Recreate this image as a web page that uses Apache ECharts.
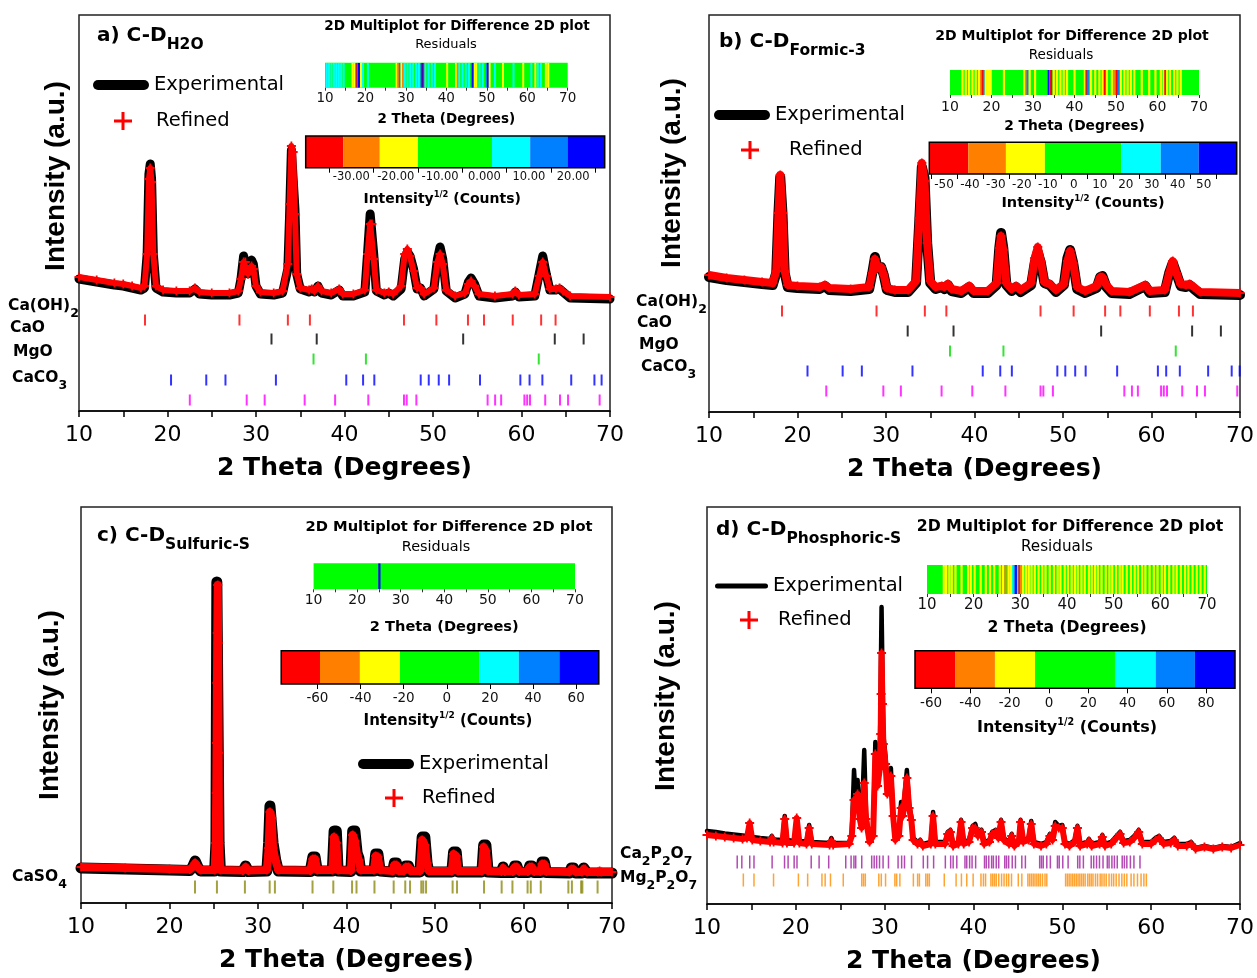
<!DOCTYPE html>
<html>
<head>
<meta charset="UTF-8">
<title>XRD Rietveld refinement - four samples</title>
<script src="https://cdn.jsdelivr.net/npm/echarts@6.0.0/dist/echarts.min.js"></script>
<style>
  html, body { margin: 0; padding: 0; background: #fff; }
  #chart { width: 1257px; height: 978px; }
</style>
</head>
<body>
<div id="chart"></div>
<script>
// ---- panel a) C-D H2O ----
var expA = [[10,135],[12,132],[14,129],[15,128],[16,126],[17,124],[17.4,126],[17.7,160],[17.9,240],[18.05,250],[18.2,235],[18.4,160],[18.7,126],[19.5,122],[21,121],[22.5,121],[23.1,125],[23.6,120],[25,119],[27,119],[28,121],[28.3,135],[28.6,158],[28.8,158],[29.1,140],[29.5,154],[29.7,150],[30,128],[30.5,120],[32,119],[33,121],[33.6,145],[33.8,200],[34.0,264],[34.2,266],[34.4,205],[34.6,140],[35,125],[36,122],[36.3,124],[36.6,122],[37,128],[37.4,121],[38.5,119],[39.4,124],[39.8,118],[41,118],[42.3,122],[42.6,160],[42.9,200],[43.1,200],[43.3,160],[43.6,123],[44.5,119],[45,121],[45.5,118],[46.4,125],[46.8,155],[47.1,162],[47.4,158],[47.8,145],[48.2,125],[48.6,126],[49,118],[50.1,125],[50.5,155],[50.8,167],[51.1,155],[51.5,123],[52.5,116],[53.6,120],[54.0,132],[54.3,136],[54.7,130],[55.2,118],[57,116],[59,118],[59.3,122],[59.7,117],[61.5,118],[62,140],[62.4,158],[62.8,140],[63.2,124],[63.9,124],[64.3,125],[64.7,122],[65.5,116],[70,115]];
var refA = [[10,137],[12,134],[14,131],[15,130],[16,128],[17,126],[17.4,128],[17.7,160],[17.9,235],[18.05,246],[18.2,232],[18.4,160],[18.7,128],[19.5,124],[21,123],[22.5,123],[23.1,126],[23.6,122],[25,121],[27,121],[28,123],[28.3,135],[28.6,152],[28.8,152],[29.1,140],[29.5,148],[29.7,145],[30,128],[30.5,122],[32,121],[33,123],[33.6,150],[33.8,210],[34.0,268],[34.2,262],[34.4,200],[34.6,140],[35,126],[36,124],[36.3,125],[36.6,123],[37,128],[37.4,123],[38.5,121],[39.4,125],[39.8,120],[41,120],[42.3,124],[42.6,160],[42.9,190],[43.1,190],[43.3,155],[43.6,124],[44.5,121],[45,122],[45.5,120],[46.4,128],[46.8,160],[47.1,165],[47.4,158],[47.8,143],[48.2,126],[48.6,126],[49,120],[50.1,126],[50.5,152],[50.8,160],[51.1,150],[51.5,124],[52.5,118],[53.6,121],[54.0,130],[54.3,133],[54.7,128],[55.2,120],[57,118],[59,120],[59.3,123],[59.7,119],[61.5,120],[62,138],[62.4,152],[62.8,138],[63.2,125],[63.9,125],[64.3,126],[64.7,123],[65.5,118],[70,117]];
var cohA = [17.46, 28.13, 33.60, 36.09, 46.72, 50.38, 53.95, 55.76, 59.01, 62.22, 63.85];
var caoA = [31.75, 36.86, 53.41, 63.76, 67.02];
var mgoA = [36.50, 42.42, 61.95];
var caco3A = [20.40, 24.38, 26.55, 32.25, 40.20, 42.10, 43.37, 48.61, 49.52, 50.65, 51.82, 55.31, 59.87, 60.91, 62.36, 65.62, 68.24, 69.05];
var caco3bA = [22.52, 28.95, 30.98, 35.50, 38.94, 42.69, 46.72, 47.03, 48.12, 56.17, 57.02, 57.70, 60.33, 60.64, 60.96, 62.68, 64.35, 65.26, 68.83];
var residA = [[10.4,6],[11.0,6],[11.6,6],[12.2,6],[12.8,6],[13.4,6],[14.0,6],[14.6,6],[16.8,-19],[17.3,-19],[17.8,-36],[18.1,14],[18.4,22],[18.9,-19],[19.4,6],[20.6,6],[27.7,-19],[28.1,-28],[28.5,14],[28.9,-19],[29.3,-28],[29.7,6],[30.4,6],[31.1,6],[31.8,6],[32.5,6],[33.2,6],[33.8,14],[34.1,22],[34.4,-36],[34.8,6],[35.6,6],[36.4,6],[37.2,6],[40.2,-19],[42.4,-19],[42.8,-28],[43.2,6],[44.0,6],[44.8,6],[45.6,6],[46.3,14],[46.6,22],[47.0,-19],[47.4,-19],[48.2,6],[49.0,6],[50.0,14],[50.3,22],[50.7,-19],[52.0,6],[54.0,-19],[56.6,6],[59.0,-19],[61.0,6],[62.0,-19],[62.6,6],[63.4,6],[64.6,-19],[65.2,-19]];
var cbarA = [-40.3, -31.8, -23.6, -15.0, 1.7, 10.3, 18.7, 27.1];
var cbarTicksA = [-35, -25, -15, -5, 5, 15, 25];
var cbarLabelsA = [-30, -20, -10, 0, 10, 20];

// ---- panel b) C-D Formic-3 ----
var expB = [[10,136],[12,133],[14,131],[16,129],[17.2,128],[17.6,140],[17.85,200],[18.05,236],[18.3,200],[18.55,140],[18.9,126],[20,125],[22.5,124],[23.1,127],[23.6,123],[26,122],[28.1,124],[28.45,140],[28.75,156],[29.05,145],[29.45,146],[29.75,138],[30.1,123],[31,121],[32.5,121],[33.4,130],[33.75,190],[34.05,246],[34.35,235],[34.65,170],[35.0,130],[35.6,124],[36.3,126],[36.6,124],[37.0,128],[37.4,122],[38.5,120],[39.4,126],[39.9,120],[41.5,120],[42.5,128],[42.8,165],[43.0,180],[43.25,165],[43.6,128],[44.2,122],[44.7,126],[45.2,121],[46.4,128],[46.8,150],[47.15,161],[47.5,150],[47.9,130],[48.5,128],[49.2,121],[50.1,128],[50.5,155],[50.8,163],[51.15,150],[51.6,124],[52.5,120],[53.8,125],[54.2,136],[54.45,137],[54.9,126],[55.5,120],[57.5,119],[59.3,127],[59.8,120],[61.5,121],[62.0,140],[62.4,150],[62.8,140],[63.3,127],[63.9,126],[64.3,128],[64.8,124],[65.5,119],[70,118]];
var refB = [[10,138],[12,135],[14,133],[16,131],[17.2,130],[17.6,142],[17.85,200],[18.05,238],[18.3,200],[18.55,142],[18.9,128],[20,127],[22.5,126],[23.1,128],[23.6,125],[26,124],[28.1,126],[28.45,140],[28.75,154],[29.05,145],[29.45,146],[29.75,138],[30.1,125],[31,123],[32.5,123],[33.4,132],[33.75,195],[34.05,250],[34.35,232],[34.65,170],[35.0,132],[35.6,126],[36.3,127],[36.6,126],[37.0,129],[37.4,124],[38.5,122],[39.4,127],[39.9,122],[41.5,122],[42.5,130],[42.8,165],[43.0,177],[43.25,163],[43.6,130],[44.2,124],[44.7,127],[45.2,123],[46.4,130],[46.8,155],[47.15,166],[47.5,152],[47.9,131],[48.5,129],[49.2,123],[50.1,129],[50.5,152],[50.8,162],[51.15,150],[51.6,126],[52.5,122],[53.8,127],[54.2,136],[54.45,136],[54.9,128],[55.5,122],[57.5,121],[59.3,128],[59.8,122],[61.5,123],[62.0,140],[62.4,152],[62.8,140],[63.3,129],[63.9,128],[64.3,129],[64.8,126],[65.5,121],[70,120]];
var cohB = [18.25, 28.93, 34.39, 36.82, 47.46, 51.20, 54.76, 56.48, 59.81, 63.10, 64.68];
var caoB = [32.45, 37.63, 54.31, 64.59, 67.84];
var mgoB = [37.23, 43.27, 62.74];
var caco3B = [21.13, 25.10, 27.27, 32.99, 40.93, 42.91, 44.22, 49.36, 50.26, 51.38, 52.56, 56.12, 60.72, 61.66, 63.20, 66.40, 69.06, 69.96];
var caco3bB = [23.25, 29.70, 31.68, 36.28, 39.75, 43.49, 47.46, 47.78, 48.86, 56.93, 57.79, 58.46, 61.08, 61.39, 61.75, 63.47, 65.14, 66.04, 69.69];
var residB = [[13.0,-18],[13.8,-18],[14.6,-18],[15.4,-18],[16.2,-18],[17.0,-18],[17.5,-33],[17.9,-48],[18.2,40],[18.6,-18],[19.0,-18],[19.4,-18],[19.8,-18],[23.0,-18],[27.9,-18],[28.4,-33],[28.7,40],[29.2,-18],[30.5,-18],[33.8,55],[34.1,40],[34.4,-48],[35.0,-18],[35.8,-18],[36.6,-18],[37.4,-18],[38.2,-18],[40.0,-18],[42.5,-18],[42.9,-48],[43.2,40],[44.0,-18],[45.0,-18],[46.0,-18],[46.8,-18],[47.3,-48],[47.8,-18],[49.0,-18],[49.8,-33],[50.2,-48],[50.6,40],[51.2,-18],[52.0,-18],[52.8,-18],[53.6,-18],[54.4,-18],[56.2,-18],[58.0,-18],[59.5,-18],[60.8,-18],[61.5,-18],[61.9,-48],[62.3,-18],[63.0,-18],[64.0,-18],[64.8,-18],[65.6,-18]];
var cbarB = [-55.65, -40.65, -26.15, -11.15, 18.35, 33.46, 48.1, 62.7];
var cbarTicksB = [-55, -45, -35, -25, -15, -5, 5, 15, 25, 35, 45, 55];
var cbarLabelsB = [-50, -40, -30, -20, -10, 0, 10, 20, 30, 40, 50];

// ---- panel c) C-D Sulfuric-S ----
var expC = [[10,35],[15,34],[20,33],[22.3,32.5],[22.6,36],[22.9,42],[23.2,36],[23.5,32],[25.1,32],[25.25,60],[25.35,321],[25.5,321],[25.6,60],[25.75,32],[28.3,31.5],[28.6,37],[28.9,31.5],[31.0,32],[31.2,60],[31.35,97],[31.55,97],[31.7,60],[32.0,43],[32.3,32],[35.9,31.5],[36.2,46],[36.45,46],[36.7,32],[38.4,32],[38.6,72],[38.85,72],[39.05,32],[40.5,31.5],[40.7,72],[40.95,72],[41.2,50],[41.4,45],[41.6,32],[43.1,32],[43.3,49],[43.55,49],[43.8,32],[45.2,31],[45.4,40],[45.65,40],[45.9,31],[46.5,31],[46.7,37],[47.0,37],[47.2,31],[48.3,31],[48.55,66],[48.85,66],[49.1,40],[49.3,31],[51.9,31],[52.1,51],[52.4,51],[52.6,31],[55.3,31],[55.5,58],[55.75,58],[56.0,31],[57.5,30.5],[57.7,36],[57.9,30.5],[58.8,30.5],[59.0,37],[59.25,37],[59.5,30.5],[60.5,30.5],[60.7,37],[60.95,37],[61.2,30.5],[61.9,30.5],[62.1,41],[62.35,41],[62.6,30.5],[65.2,30],[65.4,35],[65.65,35],[65.9,30],[66.6,30],[66.8,35],[67.0,35],[67.2,30],[68.4,30],[68.6,32],[68.8,30],[70,30]];
var refC = [[10,36],[15,35],[20,34],[22.3,33.5],[22.6,36],[22.9,40],[23.2,36],[23.5,33],[25.1,33],[25.22,60],[25.28,110],[25.32,160],[25.36,220],[25.4,270],[25.45,318],[25.5,260],[25.55,150],[25.6,60],[25.75,33],[28.3,32.5],[28.6,36],[28.9,32.5],[31.0,33],[31.2,55],[31.35,91],[31.55,85],[31.7,55],[32.0,42],[32.3,33],[35.9,32.5],[36.2,44],[36.45,44],[36.7,33],[38.4,33],[38.6,66],[38.85,60],[39.05,33],[40.5,32.5],[40.7,68],[40.95,62],[41.2,48],[41.4,43],[41.6,33],[43.1,33],[43.3,47],[43.55,46],[43.8,33],[45.2,32],[45.4,38],[45.65,38],[45.9,32],[46.5,32],[46.7,36],[47.0,36],[47.2,32],[48.3,32],[48.55,63],[48.85,58],[49.1,40],[49.3,32],[51.9,32],[52.1,49],[52.4,47],[52.6,32],[55.3,32],[55.5,56],[55.75,52],[56.0,32],[57.5,31.5],[57.7,35],[57.9,31.5],[58.8,31.5],[59.0,36],[59.25,36],[59.5,31.5],[60.5,31.5],[60.7,36],[60.95,36],[61.2,31.5],[61.9,31.5],[62.1,39],[62.35,39],[62.6,31.5],[65.2,31],[65.4,34],[65.65,34],[65.9,31],[66.6,31],[66.8,34],[67.0,34],[67.2,31],[68.4,31],[68.6,32],[68.8,31],[70,31]];
var caso4C = [22.88, 25.36, 28.52, 31.32, 31.91, 36.16, 38.51, 40.63, 41.13, 43.16, 45.33, 46.64, 47.18, 48.45, 48.67, 48.99, 51.99, 52.49, 55.54, 57.53, 58.75, 60.46, 60.82, 61.95, 65.07, 65.47, 66.51, 66.65, 68.37];
var residC = [[25.1,60]];
var cbarC = [-76.8, -58.8, -40.3, -21.7, 15.0, 33.4, 52.2, 70.5];
var cbarTicksC = [-60, -40, -20, 0, 20, 40, 60];

// ---- panel d) C-D Phosphoric-S ----
var expD = [[10,73],[11,72],[12,70.5],[13,69.5],[14,68.5],[14.5,68],[14.8,75],[15.1,67],[16,66],[17.1,65],[17.3,68],[17.5,64.5],[18.5,64],[18.75,88],[19.0,64],[19.8,63],[20.1,80],[20.4,63],[21.2,62.5],[21.5,79],[21.8,62],[23.8,61],[24.0,66],[24.2,61],[26.0,61],[26.3,70],[26.55,134],[26.75,105],[26.95,124],[27.2,90],[27.4,80],[27.7,154],[27.9,90],[28.3,62],[28.7,70],[28.95,162],[29.2,120],[29.45,140],[29.65,297],[29.85,170],[30.1,147],[30.3,110],[30.7,136],[30.95,90],[31.2,64],[31.6,70],[31.85,102],[32.05,90],[32.5,134],[32.75,100],[33.0,87],[33.2,66],[33.7,62],[34.0,64],[34.3,60],[35.2,62],[35.45,92],[35.7,62],[36.8,62],[37.1,72],[37.4,74],[37.7,60],[38.3,62],[38.6,84],[38.9,62],[39.5,64],[39.9,78],[40.2,80],[40.5,70],[40.9,74],[41.2,62],[41.8,64],[42.1,72],[42.5,74],[42.8,68],[43.1,84],[43.4,66],[44.0,62],[44.3,70],[44.6,60],[45.1,64],[45.3,84],[45.6,64],[46.2,66],[46.5,83],[46.8,62],[47.6,60],[48.2,62],[48.6,70],[48.9,66],[49.2,82],[49.6,78],[50.0,79],[50.3,62],[50.8,60],[51.4,64],[51.7,78],[52.0,60],[52.8,62],[53.0,65],[53.3,60],[54.2,62],[54.5,69],[54.8,60],[55.5,62],[56.1,68],[56.5,72],[56.9,63],[57.6,64],[58.1,68],[58.6,74],[59.0,62],[60.0,62],[60.5,66],[60.9,68],[61.4,62],[62.2,63],[62.6,66],[63.0,60],[64.0,60],[64.5,62],[65.0,56],[66.0,58],[67.0,56],[68.0,58],[69.0,57],[70,61]];
var refD = [[10,69],[11,68],[12,67],[13,66],[14,65],[14.5,66],[14.8,81],[15.1,64],[16,63],[17.1,62],[17.3,66],[17.5,62],[18.5,61],[18.75,85],[19.0,61],[19.8,61],[20.1,86],[20.4,61],[21.2,60],[21.5,76],[21.8,60],[23.8,59],[24.0,63],[24.2,59],[26.0,60],[26.3,68],[26.55,104],[26.75,95],[26.95,110],[27.2,85],[27.4,76],[27.7,121],[27.9,85],[28.3,62],[28.7,68],[28.95,150],[29.2,118],[29.45,135],[29.55,170],[29.6,210],[29.65,251],[29.75,200],[29.85,160],[30.1,140],[30.3,110],[30.7,128],[30.95,88],[31.2,64],[31.6,68],[31.85,96],[32.05,88],[32.5,126],[32.75,96],[33.0,84],[33.2,64],[33.7,60],[34.0,62],[34.3,58],[35.2,60],[35.45,88],[35.7,60],[36.8,60],[37.1,70],[37.4,72],[37.7,58],[38.3,60],[38.6,82],[38.9,60],[39.5,62],[39.9,76],[40.2,76],[40.5,68],[40.9,72],[41.2,60],[41.8,62],[42.1,70],[42.5,72],[42.8,66],[43.1,82],[43.4,64],[44.0,60],[44.3,68],[44.6,58],[45.1,62],[45.3,82],[45.6,62],[46.2,64],[46.5,80],[46.8,60],[47.6,58],[48.2,60],[48.6,68],[48.9,64],[49.2,78],[49.6,76],[50.0,76],[50.3,60],[50.8,58],[51.4,62],[51.7,76],[52.0,58],[52.8,60],[53.0,63],[53.3,58],[54.2,60],[54.5,67],[54.8,58],[55.5,60],[56.1,66],[56.5,70],[56.9,61],[57.6,62],[58.1,66],[58.6,72],[59.0,60],[60.0,60],[60.5,64],[60.9,66],[61.4,60],[62.2,61],[62.6,64],[63.0,58],[64.0,58],[64.5,60],[65.0,55],[66.0,57],[67.0,55],[68.0,57],[69.0,56],[70,59]];
var ca2p2o7D = [13.40, 13.92, 14.81, 15.29, 17.33, 18.73, 19.13, 19.81, 20.13, 21.73, 22.62, 23.70, 25.62, 26.22, 26.54, 26.74, 27.42, 28.54, 28.82, 29.10, 29.42, 29.82, 30.43, 31.51, 31.91, 32.23, 33.03, 34.35, 34.83, 35.51, 36.83, 37.43, 37.71, 38.12, 39.04, 39.24, 39.56, 39.84, 40.24, 41.24, 41.44, 41.72, 42.04, 42.24, 42.56, 42.84, 43.52, 43.72, 43.96, 44.36, 44.72, 45.44, 45.84, 47.45, 47.65, 47.85, 48.25, 48.65, 49.45, 49.65, 50.05, 50.65, 51.73, 51.97, 52.37, 53.25, 53.53, 53.85, 54.18, 54.58, 55.06, 55.26, 55.58, 55.86, 56.18, 56.74, 56.98, 57.26, 57.66, 58.06, 58.74];
var mg2p2o7D = [14.09, 15.29, 17.49, 20.29, 21.33, 22.94, 23.30, 23.90, 25.34, 27.42, 27.62, 27.82, 29.34, 29.62, 30.10, 31.15, 31.35, 31.71, 33.23, 33.71, 33.91, 34.63, 34.83, 35.03, 36.71, 38.04, 38.64, 39.24, 39.96, 40.84, 41.12, 41.36, 41.96, 42.16, 42.36, 42.56, 42.84, 43.16, 43.44, 43.72, 43.96, 44.28, 45.04, 45.44, 46.12, 46.32, 46.52, 46.72, 46.92, 47.13, 47.33, 47.53, 47.77, 48.05, 48.25, 50.37, 50.57, 50.77, 50.97, 51.17, 51.37, 51.57, 51.77, 51.97, 52.17, 52.37, 52.57, 52.85, 53.05, 53.25, 53.45, 53.73, 53.97, 54.26, 54.46, 54.70, 54.94, 55.26, 55.54, 55.78, 56.06, 56.38, 56.70, 56.98, 57.26, 57.74, 58.06, 58.46, 58.86, 59.18, 59.46];
var residD = [[13.6,-17],[14.1,-17],[14.8,-17],[15.3,-17],[16.1,-17],[17.4,-17],[18.8,-17],[19.4,-17],[20.2,-17],[21.5,-17],[22.6,-17],[23.5,-17],[24.4,-17],[25.6,-17],[26.3,-17],[26.8,-37],[27.5,-17],[28.0,-17],[28.5,45],[28.8,64],[29.1,85],[29.5,45],[29.8,-55],[30.1,-37],[30.6,-17],[31.2,-17],[31.8,-17],[32.4,-17],[33.1,-17],[33.9,-17],[34.7,-17],[35.4,-17],[36.3,-17],[37.2,-17],[38.0,-17],[38.6,-17],[39.5,-17],[40.2,-17],[41.0,-17],[41.7,-17],[42.3,-17],[43.1,-17],[43.8,-17],[44.7,-17],[45.3,-17],[46.0,-17],[46.6,-17],[47.4,-17],[48.3,-17],[49.1,-17],[49.7,-17],[50.5,-17],[51.3,-17],[51.9,-17],[52.8,-17],[53.7,-17],[54.5,-17],[55.2,-17],[56.1,-17],[56.8,-17],[57.7,-17],[58.6,-17],[59.4,-17],[60.3,-17],[61.0,-17],[61.9,-17],[62.8,-17],[63.5,-17],[64.4,-17],[65.3,-17],[66.0,-17],[66.9,-17],[67.8,-17],[68.6,-17],[69.5,-17]];
var cbarD = [-68.2, -47.8, -27.5, -7.1, 33.6, 54.3, 74.3, 94.7];
var cbarTicksD = [-60, -40, -20, 0, 20, 40, 60, 80];

var stripLabels = [10, 20, 30, 40, 50, 60, 70];
var levelColors = ['#ff0000', '#ff8000', '#ffff00', '#00ff00', '#00ffff', '#0080ff', '#0000ff'];

var FONT = 'DejaVu Sans';
var plusIcon = 'path://M7.5,0H10.5V7.5H18V10.5H10.5V18H7.5V10.5H0V7.5H7.5Z';
var plusMark = 'path://M4,0H6V4H10V6H6V10H4V6H0V4H4Z';
var pillThick = 'path://M5,0H51A5,5,0,0,1,51,10H5A5,5,0,0,1,5,0Z';
var pillThin = 'path://M2.5,0H50.5A2.5,2.5,0,0,1,50.5,5H2.5A2.5,2.5,0,0,1,2.5,0Z';

var panels = [
  {
    exp: expA, ref: refA, resid: residA, cbar: cbarA, cbarTicks: cbarTicksA, cbarLabels: cbarLabelsA,
    cbarFmt: function (v) { return v === 0 ? '0.000' : v.toFixed(2); },
    phases: [[cohA, '#ff0000', 94], [caoA, '#000000', 75], [mgoA, '#00dd00', 55], [caco3A, '#0000ff', 34], [caco3bA, '#ff00ff', 14]],
    main: {left: 79, top: 15, width: 531, height: 396}, yMin: 3, yMax: 399,
    expW: 9, refW: 6, tick: [2, 11], stripeW: 2,
    strip: {left: 325, top: 62.7, width: 242.7, height: 25}, sFont: 13.5, sMargin: 4.2, sGap: 25, sName: 13.5,
    bar: {left: 305.7, top: 136, width: 299, height: 31.7}, bFont: 11.5, bMargin: 3, bGap: 22, bName: 14, bPad: [0, 26, 0, 0],
    expLeg: [93, 73, 56, 10, pillThick], refLeg: [114, 109, 19]
  },
  {
    exp: expB, ref: refB, resid: residB, cbar: cbarB, cbarTicks: cbarTicksB, cbarLabels: cbarLabelsB,
    cbarFmt: function (v) { return String(v); },
    phases: [[cohB, '#ff0000', 102], [caoB, '#000000', 82], [mgoB, '#00dd00', 62], [caco3B, '#0000ff', 42], [caco3bB, '#ff00ff', 22]],
    main: {left: 709, top: 15, width: 532, height: 397}, yMin: 1, yMax: 398,
    expW: 10, refW: 8, tick: [2, 11], stripeW: 2.2,
    strip: {left: 950, top: 70, width: 249, height: 25}, sFont: 14, sMargin: 5.3, sGap: 24.4, sName: 13.8,
    bar: {left: 929.3, top: 142.3, width: 307.4, height: 31.7}, bFont: 12, bMargin: 5, bGap: 19.5, bName: 14.5, bPad: [0, 0, 0, 0],
    expLeg: [714, 103, 56, 10, pillThick], refLeg: [741, 138, 25]
  },
  {
    exp: expC, ref: refC, resid: residC, cbar: cbarC, cbarTicks: cbarTicksC, cbarLabels: cbarTicksC,
    cbarFmt: function (v) { return String(v); },
    phases: [[caso4C, '#8c8a10', 16]],
    main: {left: 81, top: 507, width: 531, height: 396}, yMin: 0, yMax: 396,
    expW: 11, refW: 8, tick: [2, 13], stripeW: 2.2,
    strip: {left: 313.6, top: 563.3, width: 261.4, height: 26}, sFont: 14, sMargin: 3.7, sGap: 30, sName: 14.6,
    bar: {left: 281.2, top: 650.7, width: 317.6, height: 33.3}, bFont: 13.5, bMargin: 7.6, bGap: 26.5, bName: 15, bPad: [0, 0, 0, 16],
    expLeg: [358, 752, 56, 10, pillThick], refLeg: [385, 786, 14]
  },
  {
    exp: expD, ref: refD, resid: residD, cbar: cbarD, cbarTicks: cbarTicksD, cbarLabels: cbarTicksD,
    cbarFmt: function (v) { return String(v); },
    phases: [[ca2p2o7D, '#a01ca0', 42], [mg2p2o7D, '#ff8c00', 24]],
    main: {left: 707, top: 507, width: 533, height: 397}, yMin: 0, yMax: 397,
    expW: 4.5, refW: 6, tick: [1.5, 13], stripeW: 2.2,
    strip: {left: 927, top: 565, width: 280, height: 29}, sFont: 15, sMargin: 3.8, sGap: 26.4, sName: 15.6,
    bar: {left: 915, top: 650.7, width: 320, height: 37.6}, bFont: 13.5, bMargin: 8.3, bGap: 29, bName: 16, bPad: [0, 16, 0, 0],
    expLeg: [715, 574, 53, 5, pillThin], refLeg: [740, 608, 15]
  }
];

function stripeMaker(w) {
  return function (params, api) {
    var cs = params.coordSys;
    var x = api.coord([api.value(0), 0.5])[0];
    return {type: 'rect', shape: {x: x - w / 2, y: cs.y, width: w, height: cs.height}, style: {fill: api.visual('color')}};
  };
}

function barItem(params, api) {
  var cs = params.coordSys;
  var x0 = api.coord([api.value(0), 0.5])[0];
  var x1 = api.coord([api.value(1), 0.5])[0];
  return {type: 'rect', shape: {x: x0, y: cs.y, width: x1 - x0, height: cs.height}, style: {fill: levelColors[api.value(2)]}};
}

function piecesFrom(b) {
  var out = [{lt: b[1], color: levelColors[0]}];
  for (var k = 1; k < 6; k++) out.push({gte: b[k], lt: b[k + 1], color: levelColors[k]});
  out.push({gte: b[6], color: levelColors[6]});
  return out;
}

var grids = [], xAxes = [], yAxes = [], series = [], visualMaps = [], legends = [];

panels.forEach(function (p) {
  // main pattern
  var g = grids.length;
  grids.push(Object.assign({show: true, borderColor: '#222', borderWidth: 1.5, backgroundColor: 'transparent'}, p.main));
  xAxes.push({
    gridIndex: g, type: 'value', min: 10, max: 70, interval: 10,
    axisLine: {lineStyle: {color: '#000', width: 1.5}},
    axisTick: {length: 6, lineStyle: {color: '#000', width: 1.5}},
    minorTick: {show: true, splitNumber: 2, length: 6, lineStyle: {color: '#000', width: 1.5}},
    splitLine: {show: false}, minorSplitLine: {show: false},
    axisLabel: {fontSize: 22, color: '#000', fontFamily: FONT, margin: 13},
    name: '2 Theta (Degrees)', nameLocation: 'middle', nameGap: 45,
    nameTextStyle: {fontSize: 25, fontWeight: 'bold', color: '#000', fontFamily: FONT}
  });
  yAxes.push({gridIndex: g, type: 'value', min: p.yMin, max: p.yMax, show: false});
  series.push({
    type: 'line', name: 'Experimental', xAxisIndex: g, yAxisIndex: g, data: p.exp,
    showSymbol: false, silent: true, z: 2,
    itemStyle: {color: '#000'},
    lineStyle: {color: '#000', width: p.expW, cap: 'round', join: 'round'}
  });
  series.push({
    type: 'line', name: 'Refined', xAxisIndex: g, yAxisIndex: g, data: p.ref,
    symbol: plusMark, symbolSize: 9, showAllSymbol: true, silent: true, z: 3,
    itemStyle: {color: '#ff0000'},
    lineStyle: {color: '#ff0000', width: p.refW, join: 'round'}
  });
  p.phases.forEach(function (ph) {
    series.push({
      type: 'scatter', xAxisIndex: g, yAxisIndex: g, silent: true, z: 3,
      symbol: 'rect', symbolSize: p.tick, itemStyle: {color: ph[1]},
      data: ph[0].map(function (x) { return [x, ph[2]]; })
    });
  });

  // residual strip
  var gs = grids.length;
  grids.push(Object.assign({show: true, borderWidth: 0, backgroundColor: levelColors[3]}, p.strip));
  xAxes.push({
    gridIndex: gs, type: 'value', min: 10, max: 70, interval: 10,
    axisLine: {show: false},
    axisTick: {show: true, length: 3, lineStyle: {color: '#333'}},
    minorTick: {show: true, splitNumber: 2, length: 3, lineStyle: {color: '#333'}},
    splitLine: {show: false},
    axisLabel: {customValues: stripLabels, fontSize: p.sFont, color: '#111', fontFamily: FONT, margin: p.sMargin},
    name: '2 Theta (Degrees)', nameLocation: 'middle', nameGap: p.sGap,
    nameTextStyle: {fontSize: p.sName, fontWeight: 'bold', color: '#000', fontFamily: FONT}
  });
  yAxes.push({gridIndex: gs, type: 'value', min: 0, max: 1, show: false});
  visualMaps.push({type: 'piecewise', show: false, seriesIndex: series.length, dimension: 1, pieces: piecesFrom(p.cbar)});
  series.push({type: 'custom', xAxisIndex: gs, yAxisIndex: gs, data: p.resid, renderItem: stripeMaker(p.stripeW), clip: true, silent: true});

  // colour scale bar
  var gb = grids.length;
  grids.push(Object.assign({show: true, borderColor: '#000', borderWidth: 1.5, backgroundColor: 'transparent'}, p.bar));
  xAxes.push({
    gridIndex: gb, type: 'value', min: p.cbar[0], max: p.cbar[7],
    axisLine: {show: false},
    axisTick: {show: true, customValues: p.cbarTicks, length: 5, lineStyle: {color: '#000'}},
    splitLine: {show: false},
    axisLabel: {customValues: p.cbarLabels, formatter: p.cbarFmt, fontSize: p.bFont, color: '#111', fontFamily: FONT, margin: p.bMargin},
    name: '{m|Intensity}{s|1/2}{m| (Counts)}', nameLocation: 'middle', nameGap: p.bGap,
    nameTextStyle: {
      padding: p.bPad, fontFamily: FONT,
      rich: {
        m: {fontSize: p.bName, fontWeight: 'bold', color: '#000', fontFamily: FONT, lineHeight: p.bName + 3, verticalAlign: 'bottom'},
        s: {fontSize: p.bName * 0.6, fontWeight: 'bold', color: '#000', fontFamily: FONT, lineHeight: p.bName * 0.6, padding: [0, 0, p.bName * 0.55, 0], verticalAlign: 'bottom'}
      }
    }
  });
  yAxes.push({gridIndex: gb, type: 'value', min: 0, max: 1, show: false});
  series.push({
    type: 'custom', xAxisIndex: gb, yAxisIndex: gb, silent: true, z: -1,
    data: p.cbar.slice(0, 7).map(function (b, k) { return [b, p.cbar[k + 1], k]; }),
    renderItem: barItem
  });

  // legends
  legends.push({
    data: ['Experimental'], left: p.expLeg[0], top: p.expLeg[1], padding: 0, selectedMode: false,
    icon: p.expLeg[4], itemWidth: p.expLeg[2], itemHeight: p.expLeg[3],
    textStyle: {fontSize: 19.5, fontFamily: FONT, color: '#000', lineHeight: 24}
  });
  legends.push({
    data: ['Refined'], left: p.refLeg[0], top: p.refLeg[1], padding: 0, selectedMode: false,
    icon: plusIcon, itemWidth: 18, itemHeight: 18,
    textStyle: {fontSize: 19.5, fontFamily: FONT, color: '#000', lineHeight: 24, padding: [0, 0, 0, p.refLeg[2]]}
  });
});

// free texts
var titleRich = {
  m: {fontSize: 20, fontWeight: 'bold', fontFamily: FONT, fill: '#000', lineHeight: 20, padding: [0, 0, 7, 0], verticalAlign: 'bottom'},
  s: {fontSize: 15.5, fontWeight: 'bold', fontFamily: FONT, fill: '#000', lineHeight: 16, padding: [11, 0, 0, 0], verticalAlign: 'bottom'}
};
var phaseRich = {
  m: {fontSize: 15.5, fontWeight: 'bold', fontFamily: FONT, fill: '#000', lineHeight: 16, padding: [0, 0, 6, 0], verticalAlign: 'bottom'},
  s: {fontSize: 12.5, fontWeight: 'bold', fontFamily: FONT, fill: '#000', lineHeight: 13, padding: [9, 0, 0, 0], verticalAlign: 'bottom'}
};
function richText(x, y, text, rich) {
  return {type: 'text', x: x, y: y, z: 100, silent: true, style: {text: text, rich: rich, align: 'left', verticalAlign: 'top'}};
}
function plainText(x, y, text, size, weight) {
  return {type: 'text', x: x, y: y, z: 100, silent: true,
    style: {text: text, fontSize: size, fontWeight: weight, fontFamily: FONT, fill: '#000', align: 'center', verticalAlign: 'middle'}};
}
function yTitle(x, y) {
  return {type: 'text', x: x, y: y, rotation: Math.PI / 2, z: 100, silent: true,
    style: {text: 'Intensity (a.u.)', fontSize: 28, fontWeight: 'bold', fontFamily: 'Liberation Sans', fill: '#000', align: 'center', verticalAlign: 'middle'}};
}

var graphics = [
  richText(97, 33, '{m|a) C-D}{s|H2O}', titleRich),
  richText(719, 39, '{m|b) C-D}{s|Formic-3}', titleRich),
  richText(97, 533, '{m|c) C-D}{s|Sulfuric-S}', titleRich),
  richText(716, 527, '{m|d) C-D}{s|Phosphoric-S}', titleRich),
  plainText(457, 26.7, '2D Multiplot for Difference 2D plot', 13.6, 'bold'),
  plainText(446, 45, 'Residuals', 13, 'normal'),
  plainText(1072, 36.7, '2D Multiplot for Difference 2D plot', 14, 'bold'),
  plainText(1061, 55, 'Residuals', 13.6, 'normal'),
  plainText(449, 527, '2D Multiplot for Difference 2D plot', 14.7, 'bold'),
  plainText(436, 547, 'Residuals', 14.4, 'normal'),
  plainText(1070, 526.7, '2D Multiplot for Difference 2D plot', 15.7, 'bold'),
  plainText(1057, 547, 'Residuals', 15.2, 'normal'),
  yTitle(56, 176), yTitle(672, 173), yTitle(50, 705), yTitle(666, 696),
  richText(8, 304, '{m|Ca(OH)}{s|2}', phaseRich),
  richText(10, 326, '{m|CaO}', phaseRich),
  richText(13, 350, '{m|MgO}', phaseRich),
  richText(12, 376, '{m|CaCO}{s|3}', phaseRich),
  richText(636, 300, '{m|Ca(OH)}{s|2}', phaseRich),
  richText(637, 321, '{m|CaO}', phaseRich),
  richText(639, 343, '{m|MgO}', phaseRich),
  richText(641, 365, '{m|CaCO}{s|3}', phaseRich),
  richText(12, 875, '{m|CaSO}{s|4}', phaseRich),
  richText(620, 852, '{m|Ca}{s|2}{m|P}{s|2}{m|O}{s|7}', phaseRich),
  richText(620, 876, '{m|Mg}{s|2}{m|P}{s|2}{m|O}{s|7}', phaseRich)
];

var chart = echarts.init(document.getElementById('chart'));
chart.setOption({
  animation: false,
  backgroundColor: '#fff',
  grid: grids,
  xAxis: xAxes,
  yAxis: yAxes,
  visualMap: visualMaps,
  legend: legends,
  series: series,
  graphic: graphics
});
</script>
</body>
</html>
